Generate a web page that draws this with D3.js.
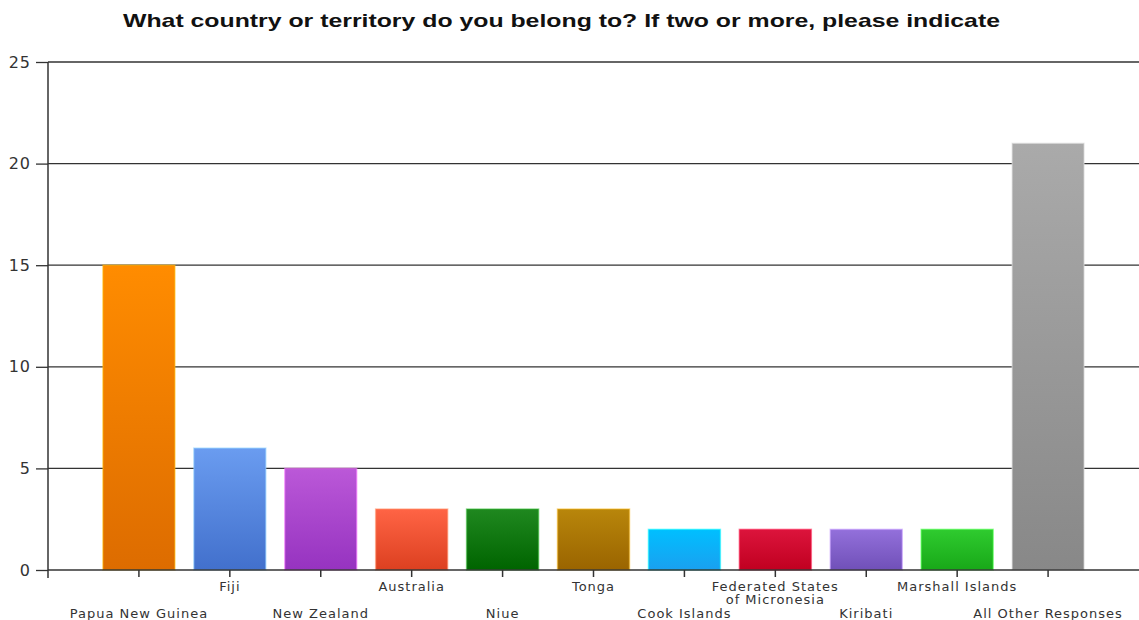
<!DOCTYPE html>
<html>
<head>
<meta charset="utf-8">
<script src="https://cdn.jsdelivr.net/npm/d3@7"></script>
<style>
  html, body { margin: 0; padding: 0; background: #fff; }
  svg { display: block; }
</style>
</head>
<body>
<svg id="chart" width="1139" height="620"></svg>
<script>
// Survey responses by country or territory
const categories = [
  "Papua New Guinea", "Fiji", "New Zealand", "Australia", "Niue", "Tonga",
  "Cook Islands", "Federated States\nof Micronesia", "Kiribati", "Marshall Islands",
  "All Other Responses"
];
const counts = [15, 6, 5, 3, 3, 3, 2, 2, 2, 2, 21];
const yTicks = [0, 5, 10, 15, 20, 25];
// top / bottom gradient stops for each bar
const colorsTop = ["#ff8c00", "#6a9cf0", "#bb58d8", "#ff6445", "#1f881f", "#b8860b",
                   "#00bfff", "#dc143c", "#9370db", "#2fcb2f", "#aaaaaa"];
const colorsBottom = ["#dd6c00", "#4270cc", "#9633c0", "#dc4020", "#006400", "#9a6400",
                      "#1aa0f0", "#c00020", "#7050b8", "#18a818", "#888888"];
const title = "What country or territory do you belong to? If two or more, please indicate";

const svg = d3.select("#chart");
const margin = { left: 48, right: 0, top: 62, bottom: 50 };
const width = 1139, height = 620;
const plotBottom = 570;

const x = d3.scalePoint()
  .domain(["", ...categories.map((c, i) => i), " "])
  .range([margin.left, width]);
const y = d3.scaleLinear().domain([0, 25]).range([plotBottom, margin.top]);
const barW = 72;

// gradients
const defs = svg.append("defs");
categories.forEach((c, i) => {
  const g = defs.append("linearGradient")
    .attr("id", "grad" + i).attr("x1", 0).attr("y1", 0).attr("x2", 0).attr("y2", 1);
  g.append("stop").attr("offset", "0%").attr("stop-color", colorsTop[i]);
  g.append("stop").attr("offset", "100%").attr("stop-color", colorsBottom[i]);
});

// title
svg.append("text")
  .attr("x", 123).attr("y", 27)
  .attr("font-family", "Liberation Sans, Arial, sans-serif")
  .attr("font-weight", "bold")
  .attr("font-size", 19)
  .attr("textLength", 877)
  .attr("lengthAdjust", "spacingAndGlyphs")
  .attr("fill", "#111")
  .text(title);

// y gridlines + axis
const yAxis = d3.axisLeft(y).tickValues(yTicks).tickSize(12).tickPadding(5);
const gy = svg.append("g").attr("transform", `translate(${margin.left},0)`).call(yAxis);
gy.select(".domain").remove();
gy.selectAll(".tick line").attr("stroke", "#333").attr("stroke-width", 1.3);
gy.selectAll(".tick text")
  .attr("font-family", "DejaVu Sans, Verdana, sans-serif")
  .attr("font-size", 16).attr("letter-spacing", 1).attr("fill", "#333");

svg.append("g").selectAll("line.grid")
  .data(yTicks.filter(t => t > 0))
  .join("line")
  .attr("x1", margin.left).attr("x2", width)
  .attr("y1", d => y(d)).attr("y2", d => y(d))
  .attr("stroke", "#333").attr("stroke-width", 1.3);

// vertical axis line
svg.append("line")
  .attr("x1", margin.left).attr("x2", margin.left)
  .attr("y1", y(25)).attr("y2", plotBottom + 8)
  .attr("stroke", "#333").attr("stroke-width", 1.5);

// bars
svg.append("g").selectAll("rect")
  .data(counts)
  .join("rect")
  .attr("x", (d, i) => x(i) - barW / 2)
  .attr("y", d => y(d))
  .attr("width", barW)
  .attr("height", d => plotBottom - y(d))
  .attr("fill", (d, i) => `url(#grad${i})`)
  .attr("stroke", (d, i) => d3.color(colorsTop[i]).brighter(0.8))
  .attr("stroke-opacity", 0.5)
  .attr("stroke-width", 1.5);

// x axis
const gx = svg.append("g").attr("transform", `translate(0,${plotBottom})`);
gx.append("line").attr("x1", margin.left).attr("x2", width)
  .attr("stroke", "#333").attr("stroke-width", 1.5);
gx.selectAll("line.tick").data(categories)
  .join("line")
  .attr("x1", (d, i) => x(i)).attr("x2", (d, i) => x(i))
  .attr("y1", 0).attr("y2", 7)
  .attr("stroke", "#333").attr("stroke-width", 1.5);

const labels = gx.selectAll("text.lbl").data(categories)
  .join("text")
  .attr("class", "lbl")
  .attr("text-anchor", "middle")
  .attr("font-family", "DejaVu Sans, Verdana, sans-serif")
  .attr("font-size", 13)
  .attr("letter-spacing", 1)
  .attr("fill", "#333")
  .attr("transform", (d, i) => `translate(${x(i)},${i % 2 === 0 ? 48 : 21})`);
labels.each(function(d) {
  const t = d3.select(this);
  d.split("\n").forEach((line, k) => {
    t.append("tspan").attr("x", 0).attr("dy", k === 0 ? 0 : 13).text(line);
  });
});
</script>
</body>
</html>
